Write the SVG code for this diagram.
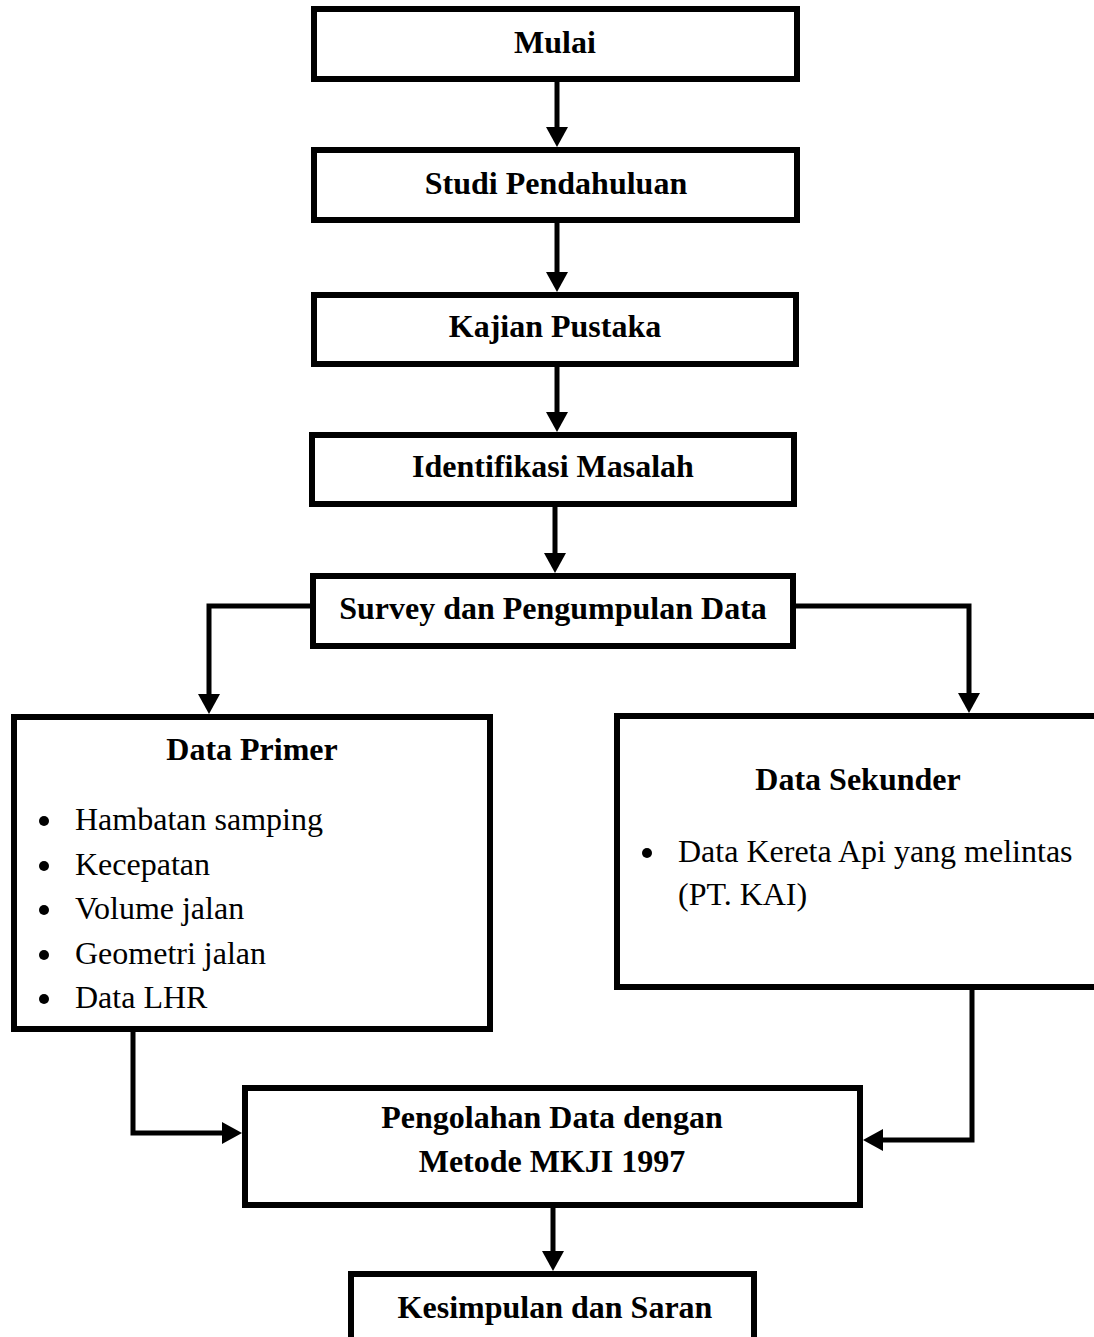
<svg xmlns="http://www.w3.org/2000/svg" width="1094" height="1337" viewBox="0 0 1094 1337">
<style>
.box{fill:#fff;stroke:#000;stroke-width:6}
.conn{fill:none;stroke:#000;stroke-width:5;stroke-linejoin:miter}
.t{font-family:"Liberation Serif","Times New Roman",serif;font-size:32px;fill:#000}
.b{font-weight:bold;text-anchor:middle}
.dot{fill:#000}
</style>
<defs>
<marker id="ah" markerUnits="userSpaceOnUse" markerWidth="20" markerHeight="22" refX="0" refY="11" orient="auto" overflow="visible">
<path d="M0,0 L20,11 L0,22 Z" fill="#000"/>
</marker>
</defs>
<rect width="1094" height="1337" fill="#fff"/>
<g id="connectors">
<path class="conn" d="M557,82 V127" marker-end="url(#ah)"/>
<path class="conn" d="M557,223 V272" marker-end="url(#ah)"/>
<path class="conn" d="M557,367 V412" marker-end="url(#ah)"/>
<path class="conn" d="M555,507 V553" marker-end="url(#ah)"/>
<path class="conn" d="M310,606 H209 V694" marker-end="url(#ah)"/>
<path class="conn" d="M796,606 H969 V693" marker-end="url(#ah)"/>
<path class="conn" d="M133,1032 V1133 H222" marker-end="url(#ah)"/>
<path class="conn" d="M972,990 V1140 H883" marker-end="url(#ah)"/>
<path class="conn" d="M553,1208 V1251" marker-end="url(#ah)"/>
</g>
<g id="mulai">
<rect class="box" x="314" y="9" width="483" height="70"/>
<text class="t b" x="555" y="53">Mulai</text>
</g>
<g id="studi">
<rect class="box" x="314" y="150" width="483" height="70"/>
<text class="t b" x="556" y="194">Studi Pendahuluan</text>
</g>
<g id="kajian">
<rect class="box" x="314" y="295" width="482" height="69"/>
<text class="t b" x="555" y="337">Kajian Pustaka</text>
</g>
<g id="identifikasi">
<rect class="box" x="312" y="435" width="482" height="69"/>
<text class="t b" x="553" y="477">Identifikasi Masalah</text>
</g>
<g id="survey">
<rect class="box" x="313" y="576" width="480" height="70"/>
<text class="t b" x="553" y="619">Survey dan Pengumpulan Data</text>
</g>
<g id="primer">
<rect class="box" x="14" y="717" width="476" height="312"/>
<text class="t b" x="252" y="760">Data Primer</text>
<circle class="dot" cx="44" cy="821" r="5"/>
<text class="t" x="75" y="830">Hambatan samping</text>
<circle class="dot" cx="44" cy="866" r="5"/>
<text class="t" x="75" y="875">Kecepatan</text>
<circle class="dot" cx="44" cy="910" r="5"/>
<text class="t" x="75" y="919">Volume jalan</text>
<circle class="dot" cx="44" cy="955" r="5"/>
<text class="t" x="75" y="964">Geometri jalan</text>
<circle class="dot" cx="44" cy="999" r="5"/>
<text class="t" x="75" y="1008">Data LHR</text>
</g>
<g id="sekunder">
<rect class="box" x="617" y="716" width="482" height="271"/>
<text class="t b" x="858" y="790">Data Sekunder</text>
<circle class="dot" cx="647" cy="853" r="5"/>
<text class="t" x="678" y="862">Data Kereta Api yang melintas</text>
<text class="t" x="678" y="905">(PT. KAI)</text>
</g>
<g id="pengolahan">
<rect class="box" x="245" y="1088" width="615" height="117"/>
<text class="t b" x="552" y="1128">Pengolahan Data dengan</text>
<text class="t b" x="552" y="1172">Metode MKJI 1997</text>
</g>
<g id="kesimpulan">
<rect class="box" x="351" y="1274" width="403" height="100"/>
<text class="t b" x="555" y="1318">Kesimpulan dan Saran</text>
</g>
</svg>
